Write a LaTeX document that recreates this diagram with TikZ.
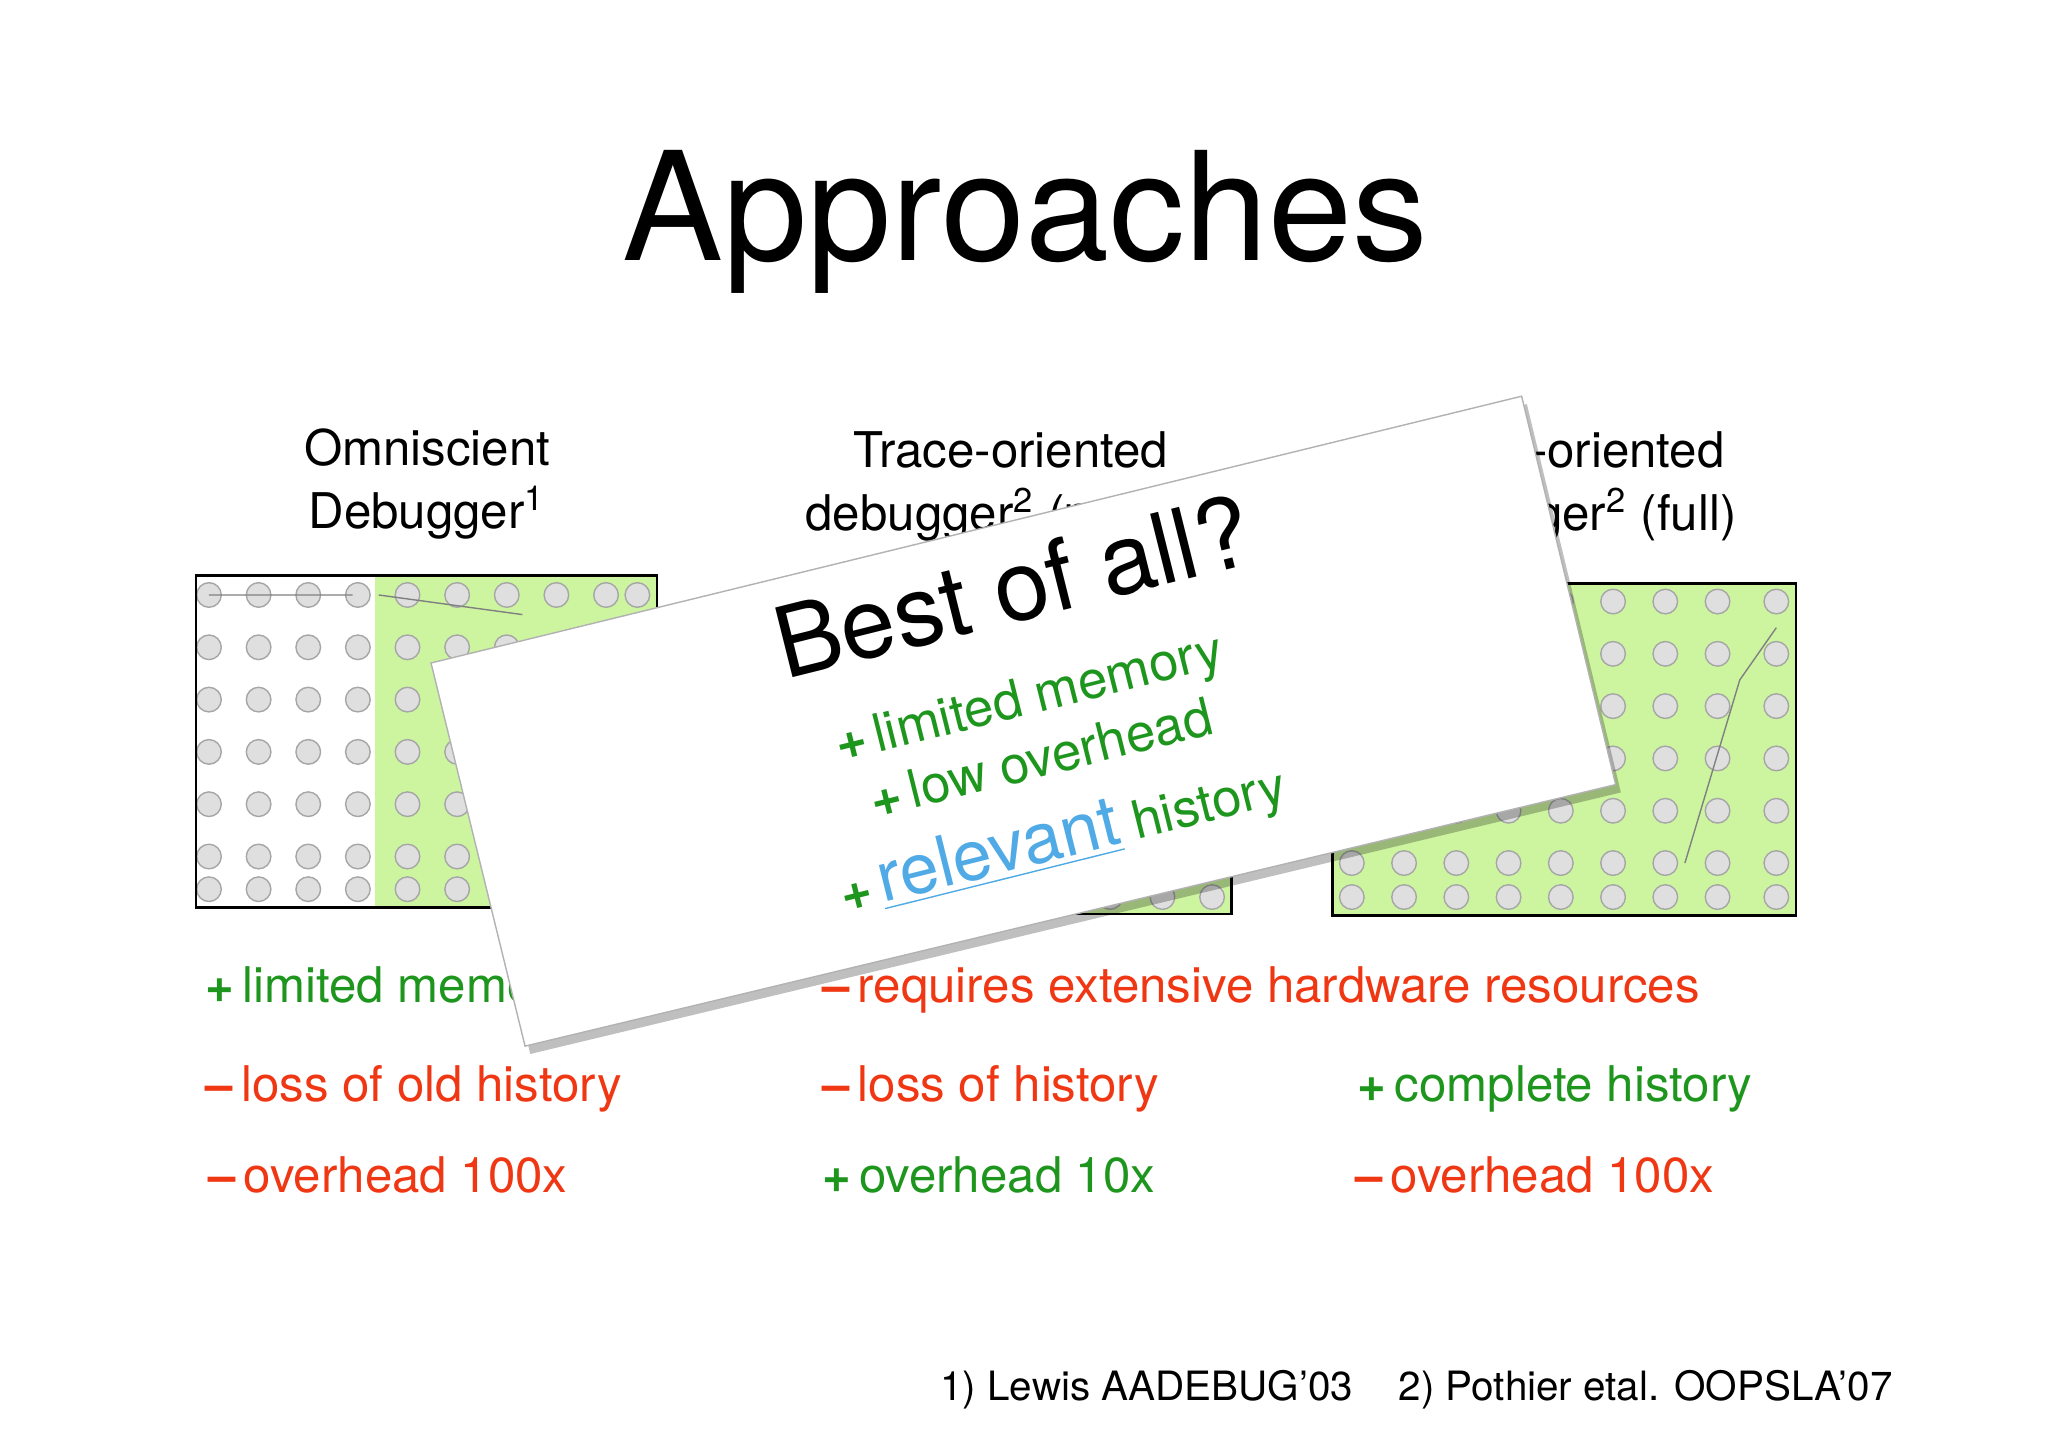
\documentclass[tikz,border=0pt]{standalone}
\usepackage{fontspec}
\setmainfont{TeX Gyre Heros}
\definecolor{plusgreen}{RGB}{30,150,30}
\definecolor{minusred}{RGB}{240,55,20}
\definecolor{linkblue}{RGB}{80,170,230}
\definecolor{graphgreen}{RGB}{205,245,160}
\tikzset{
    header/.style={align=center,font=\fontsize{14}{18}\selectfont},
    pro/.style={anchor=base west,text=plusgreen,font=\fontsize{14}{17}\selectfont},
    con/.style={anchor=base west,text=minusred,font=\fontsize{14}{17}\selectfont},
    graphbox/.style={draw=black,line width=0.8pt,inner sep=0pt,outer sep=0pt},
    blob/.style={circle,draw=gray!70,fill=gray!25,minimum size=7pt,inner sep=0pt},
    cardtext/.style={anchor=base west,rotate=14,text=plusgreen,font=\fontsize{15}{18}\selectfont}
}
\newcommand{\plus}{\textbf{+}\,}
\newcommand{\minus}{\textbf{--}\,}
\begin{document}
\begin{tikzpicture}[x=0.01306cm,y=-0.01308cm]
\useasboundingbox (0,0) rectangle (1568,1107);

\node (title) at (785,170) {\fontsize{43}{48}\selectfont Approaches};

% column headers
\node[header] (omni) at (327,370) {Omniscient\\Debugger\textsuperscript{1}};
\node[header] (tracepart) at (774,372) {Trace-oriented\\debugger\textsuperscript{2} (partial)};
\node[header] (tracefull) at (1200,372) {Trace-oriented\\debugger\textsuperscript{2} (full)};

% graph pictures
\fill[white] (150,440) rectangle (287,694);
\fill[graphgreen] (287,440) rectangle (503,694);
\fill[graphgreen] (590,445) rectangle (943,699);
\fill[graphgreen] (1020,446) rectangle (1375,700);
\foreach \x in {160,198,236,274,312,350,388,426,464,488} {
  \foreach \y in {455,495,535,575,615,655,680} {
    \node[blob] at (\x,\y) {};
  }
}
\foreach \x in {1035,1075,1115,1155,1195,1235,1275,1315,1360} {
  \foreach \y in {460,500,540,580,620,660,686} {
    \node[blob] at (\x,\y) {};
  }
}
\foreach \x in {610,650,690,730,770,810,850,890,928} {
  \node[blob] at (\x,686) {};
}
\draw[gray] (290,455) -- (400,470) (160,455) -- (270,455) (1332,520) -- (1290,660) (1332,520) -- (1360,480);
\draw[graphbox] (150,440) rectangle (503,694);
\draw[graphbox] (590,445) rectangle (943,699);
\draw[graphbox] (1020,446) rectangle (1375,700);

% pros and cons
\node[pro] (memo) at (148,767) {\plus limited memory};
\node[con] (hw) at (620,767) {\minus requires extensive hardware resources};
\node[con] (oldhist) at (148,842) {\minus loss of old history};
\node[con] (hist) at (620,842) {\minus loss of history};
\node[pro] (complete) at (1030,842) {\plus complete history};
\node[con] (ovomni) at (150,912) {\minus overhead 100x};
\node[pro] (ovpart) at (620,912) {\plus overhead 10x};
\node[con] (ovfull) at (1028,912) {\minus overhead 100x};

% the card on top
\fill[black,opacity=0.25] (334,513) -- (1169,309) -- (1241,606) -- (406,806) -- cycle;
\filldraw[fill=white,draw=gray!60] (330,507) coordinate (c1) -- (1165,303) coordinate (c2)
   -- (1237,600) coordinate (c3) -- (402,800) coordinate (c4) -- cycle;
\node[anchor=base west,rotate=14,font=\fontsize{28}{32}\selectfont] (best) at (592,522) {Best of all?};
\node[cardtext] (cmem) at (634,585) {\plus limited memory};
\node[cardtext] (cover) at (661,628) {\plus low overhead};
\node[cardtext] (crel) at (638,700) {\plus{\fontsize{20}{22}\selectfont\textcolor{linkblue}{\underline{relevant}}} history};

% references
\node (ref1) at (878,1063) {\fontsize{11.5}{14}\selectfont 1) Lewis AADEBUG'03};
\node (ref2) at (1260,1063) {\fontsize{11.5}{14}\selectfont 2) Pothier etal. OOPSLA'07};
\end{tikzpicture}
\end{document}
